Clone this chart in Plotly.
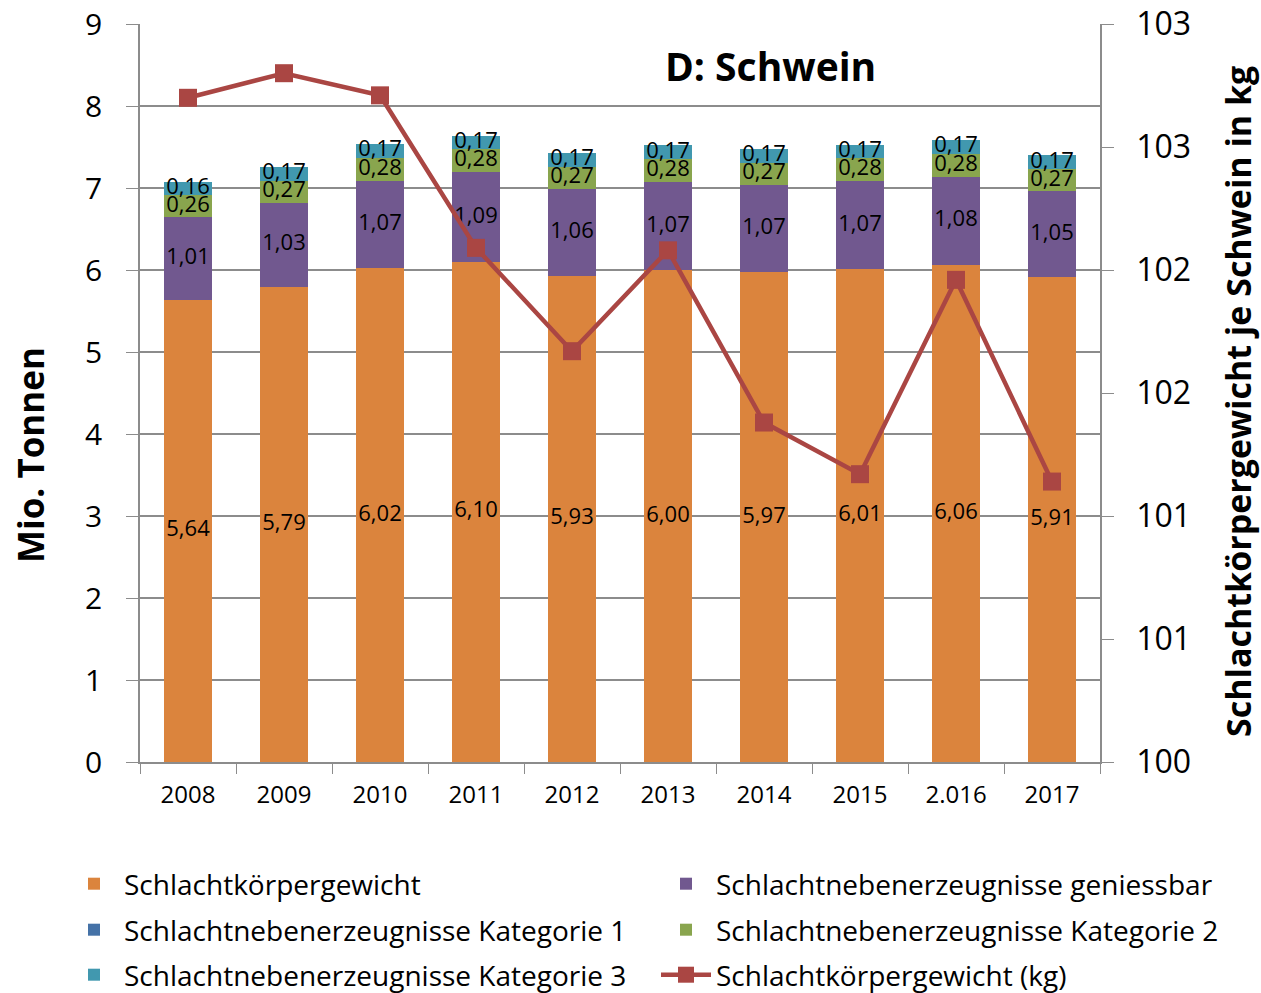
import plotly.graph_objects as go
import numpy as np

years = ["2008", "2009", "2010", "2011", "2012", "2013", "2014", "2015", "2.016", "2017"]
schlachtkoerper = [5.64, 5.79, 6.02, 6.10, 5.93, 6.00, 5.97, 6.01, 6.06, 5.91]
geniessbar = [1.01, 1.03, 1.07, 1.09, 1.06, 1.07, 1.07, 1.07, 1.08, 1.05]
kategorie1 = [0, 0, 0, 0, 0, 0, 0, 0, 0, 0]
kategorie2 = [0.26, 0.27, 0.28, 0.28, 0.27, 0.28, 0.27, 0.28, 0.28, 0.27]
kategorie3 = [0.16, 0.17, 0.17, 0.17, 0.17, 0.17, 0.17, 0.17, 0.17, 0.17]
gewicht_kg = [102.70, 102.80, 102.71, 102.09, 101.67, 102.08, 101.38, 101.17, 101.96, 101.14]

right_tickvals = [100, 100.5, 101, 101.5, 102, 102.5, 103]
right_ticktext = ["100", "101", "101", "102", "102", "103", "103"]

FONT = "Open Sans, Noto Sans, sans-serif"
C_ORANGE = "#DB843D"
C_PURPLE = "#71588F"
C_BLUE = "#4572A7"
C_GREEN = "#89A54E"
C_TEAL = "#4198AF"
C_RED = "#AA4643"
GRID = "#8C8C8C"

# plot area in pixels: x 140..1100, y 24..762
PL, PR, PT, PB = 140, 1100, 24, 762
def px_x(x):
    return (x - PL) / (PR - PL)
def px_y(y):
    return (PB - y) / (PB - PT)

fig = go.Figure()
series = [
    ("Schlachtkörpergewicht", schlachtkoerper, C_ORANGE, "legend"),
    ("Schlachtnebenerzeugnisse geniessbar", geniessbar, C_PURPLE, "legend2"),
    ("Schlachtnebenerzeugnisse Kategorie 1", kategorie1, C_BLUE, "legend3"),
    ("Schlachtnebenerzeugnisse Kategorie 2", kategorie2, C_GREEN, "legend4"),
    ("Schlachtnebenerzeugnisse Kategorie 3", kategorie3, C_TEAL, "legend5"),
]
for name, vals, col, lg in series:
    fig.add_trace(go.Bar(x=years, y=vals, name=name, marker=dict(color=col, line=dict(width=0)),
                         width=0.5, legend=lg, textposition="none"))

# data labels centred in segments
base = np.zeros(len(years))
for name, vals, col, lg in series:
    v = np.array(vals, dtype=float)
    if v.sum() > 0:
        fig.add_trace(go.Scatter(x=years, y=base + v / 2, mode="text",
                                 text=[f"{x:.2f}".replace(".", ",") for x in v],
                                 textfont=dict(family=FONT, size=22, color="black"),
                                 showlegend=False, hoverinfo="skip"))
    base = base + v

fig.add_trace(go.Scatter(x=years, y=gewicht_kg, name="Schlachtkörpergewicht (kg)", yaxis="y2",
                         mode="lines+markers", line=dict(color=C_RED, width=4.5),
                         marker=dict(symbol="square", size=18, color=C_RED),
                         legend="legend6"))

def leg(x, y):
    return dict(orientation="h", xanchor="left", yanchor="middle", x=x, y=y,
                font=dict(family=FONT, size=28, color="black"),
                bgcolor="rgba(0,0,0,0)", itemwidth=50)

left_x = px_x(64)
right_x = px_x(656)
rows = [px_y(884), px_y(930), px_y(975)]

fig.update_layout(
    width=1261, height=993,
    margin=dict(l=PL, r=1261 - PR, t=PT, b=993 - PB, autoexpand=False),
    paper_bgcolor="white", plot_bgcolor="white",
    barmode="stack",
    font=dict(family=FONT, color="black"),
    legend=leg(left_x, rows[0]),
    legend2=leg(right_x, rows[0]),
    legend3=leg(left_x, rows[1]),
    legend4=leg(right_x, rows[1]),
    legend5=leg(left_x, rows[2]),
    legend6=leg(right_x, rows[2]),
    xaxis=dict(type="category", range=[-0.5, len(years) - 0.5], showline=True,
               linecolor=GRID, linewidth=1.5,
               ticks="outside", tickson="boundaries", ticklen=10, tickcolor=GRID,
               tickfont=dict(family=FONT, size=24), showgrid=False, ticklabelstandoff=10),
    yaxis=dict(range=[0, 9], dtick=1, showline=True, linecolor=GRID, linewidth=1.5,
               ticks="outside", ticklen=12, tickcolor=GRID, gridcolor=GRID, gridwidth=1.5,
               tickfont=dict(family=FONT, size=30), zeroline=False, ticklabelstandoff=18),
    yaxis2=dict(range=[100, 103], overlaying="y", side="right", tickvals=right_tickvals,
                ticktext=right_ticktext, showline=True, linecolor=GRID, linewidth=1.5,
                ticks="outside", ticklen=12, tickcolor=GRID, showgrid=False, zeroline=False,
                tickfont=dict(family=FONT, size=32), ticklabelstandoff=16),
    annotations=[
        dict(text="<b>D: Schwein</b>", x=px_x(770), y=px_y(65), xref="paper", yref="paper",
             xanchor="center", yanchor="middle",
             showarrow=False, font=dict(family=FONT, size=39, color="black")),
        dict(text="<b>Mio. Tonnen</b>", x=px_x(30), y=px_y(455), xref="paper", yref="paper",
             xanchor="center", yanchor="middle",
             showarrow=False, textangle=-90, font=dict(family=FONT, size=35, color="black")),
        dict(text="<b>Schlachtkörpergewicht je Schwein in kg</b>", x=px_x(1238), y=px_y(402),
             xref="paper", yref="paper", showarrow=False, textangle=-90,
             xanchor="center", yanchor="middle",
             font=dict(family=FONT, size=34, color="black")),
    ],
)

fig.write_html("out.html", config={"displayModeBar": False},
               post_script="document.body.style.margin='0';document.body.style.overflow='hidden';")
